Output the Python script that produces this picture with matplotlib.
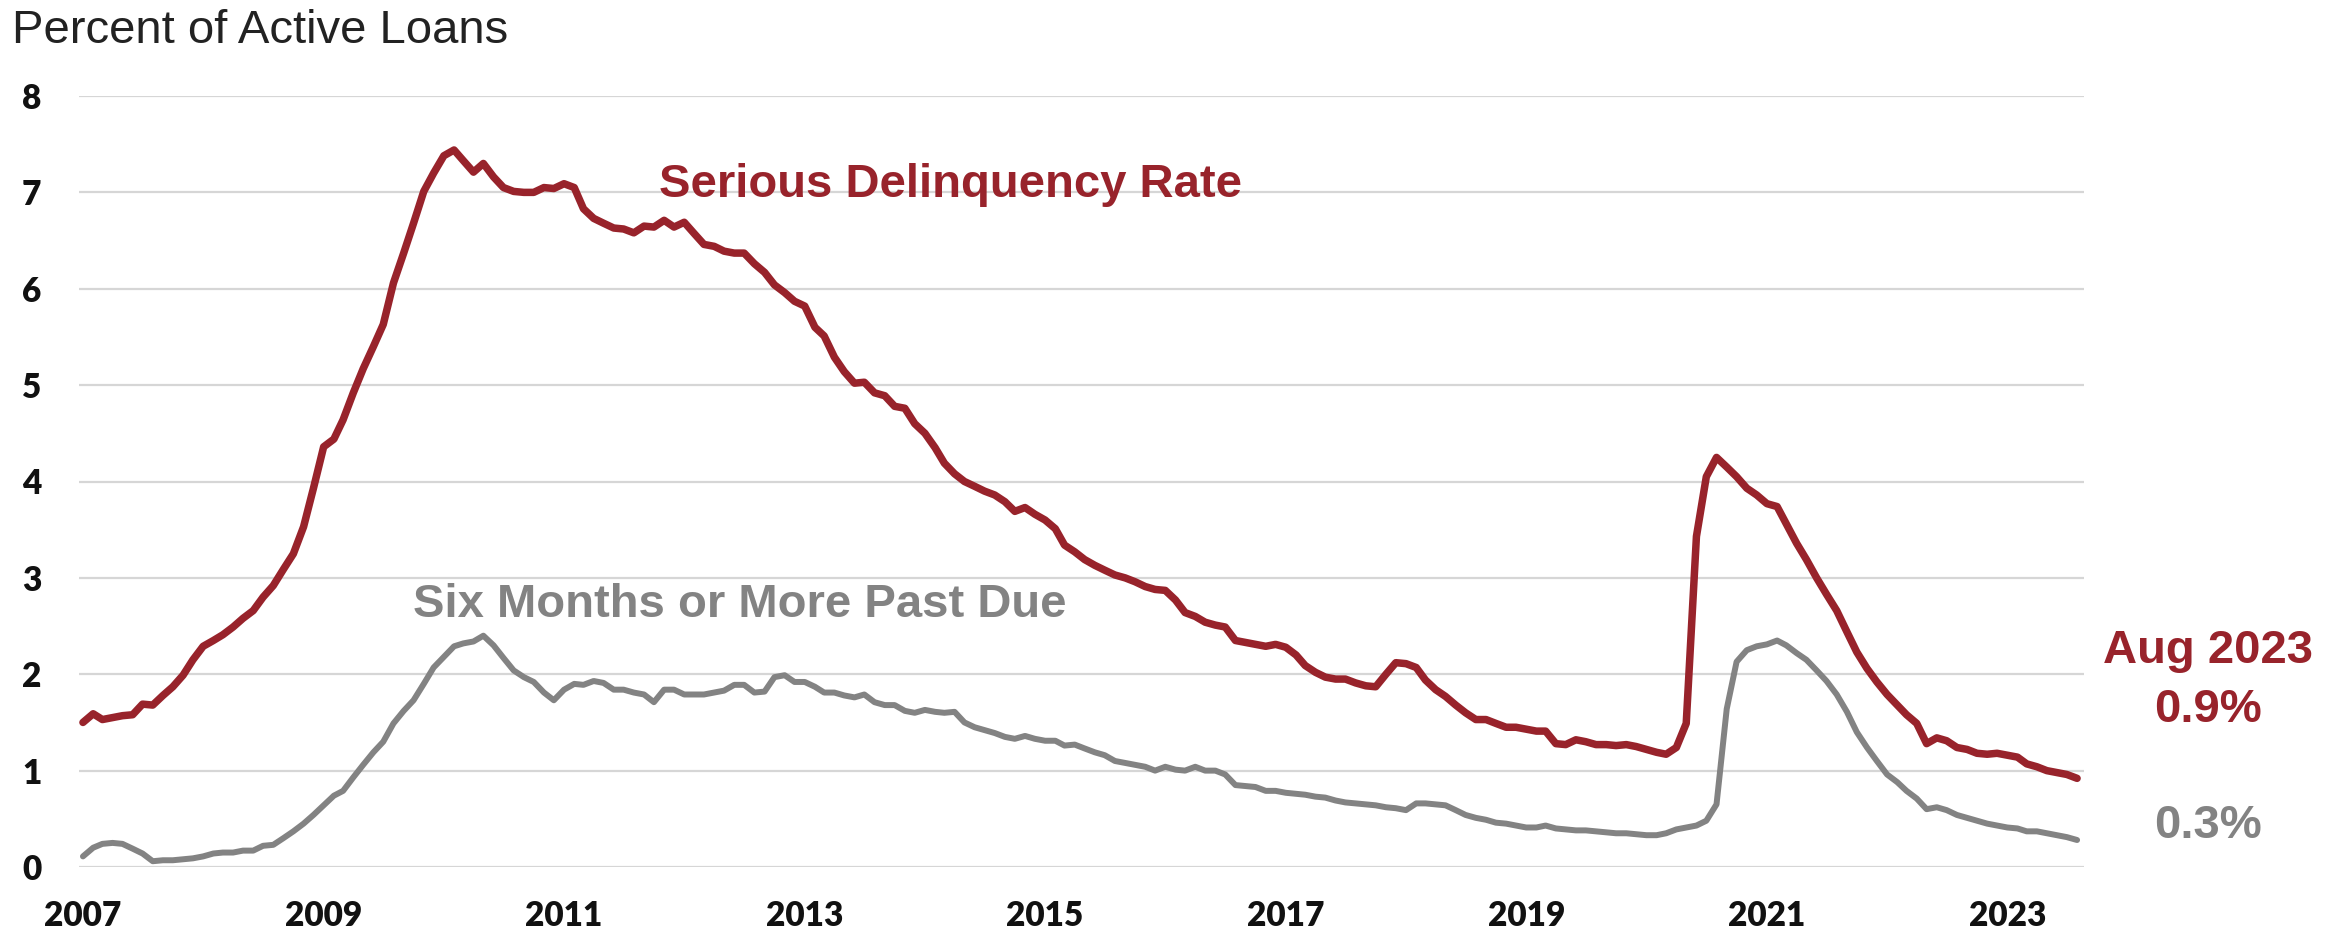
import numpy as np
import pandas as pd
import matplotlib
matplotlib.use("Agg")
import matplotlib.pyplot as plt

# ---------------- data (monthly, Jan 2007 - Aug 2023) ----------------
start_month = "2007-01-01"
end_month = "2023-08-01"

serious_delinquency = [
    1.50, 1.59, 1.53, 1.55, 1.57, 1.58, 1.69, 1.68, 1.78, 1.87, 1.99, 2.15,
    2.29, 2.35, 2.41, 2.49, 2.58, 2.66, 2.80, 2.92, 3.09, 3.25, 3.53, 3.93,
    4.36, 4.44, 4.64, 4.92, 5.17, 5.40, 5.63, 6.06, 6.37, 6.68, 7.01, 7.20,
    7.38, 7.44, 7.33, 7.21, 7.30, 7.16, 7.05, 7.01, 7.00, 7.00, 7.05, 7.04,
    7.09, 7.05, 6.83, 6.73, 6.68, 6.63, 6.62, 6.58, 6.65, 6.64, 6.71, 6.64,
    6.69, 6.57, 6.46, 6.44, 6.39, 6.37, 6.37, 6.26, 6.17, 6.04, 5.96, 5.87,
    5.82, 5.60, 5.51, 5.29, 5.14, 5.02, 5.03, 4.92, 4.89, 4.78, 4.76, 4.60,
    4.50, 4.35, 4.19, 4.08, 4.00, 3.95, 3.90, 3.86, 3.79, 3.69, 3.73, 3.66,
    3.60, 3.51, 3.34, 3.27, 3.19, 3.13, 3.08, 3.03, 3.00, 2.96, 2.91, 2.88,
    2.87, 2.77, 2.64, 2.60, 2.54, 2.51, 2.49, 2.35, 2.33, 2.31, 2.29, 2.31,
    2.28, 2.20, 2.09, 2.02, 1.97, 1.95, 1.95, 1.91, 1.88, 1.87, 2.00, 2.12,
    2.11, 2.07, 1.94, 1.84, 1.77, 1.68, 1.60, 1.53, 1.53, 1.49, 1.45, 1.45,
    1.43, 1.41, 1.41, 1.28, 1.27, 1.32, 1.30, 1.27, 1.27, 1.26, 1.27, 1.25,
    1.22, 1.19, 1.17, 1.24, 1.49, 3.43, 4.05, 4.25, 4.15, 4.05, 3.93, 3.86,
    3.77, 3.74, 3.56, 3.36, 3.19, 3.00, 2.83, 2.66, 2.44, 2.23, 2.06, 1.92,
    1.79, 1.68, 1.58, 1.49, 1.28, 1.34, 1.31, 1.24, 1.22, 1.18, 1.17, 1.18,
    1.16, 1.14, 1.07, 1.04, 1.00, 0.98, 0.96, 0.92,
]

six_months_past_due = [
    0.11, 0.20, 0.24, 0.25, 0.24, 0.19, 0.14, 0.06, 0.07, 0.07, 0.08, 0.09,
    0.11, 0.14, 0.15, 0.15, 0.17, 0.17, 0.22, 0.23, 0.30, 0.37, 0.45, 0.54,
    0.64, 0.74, 0.79, 0.93, 1.06, 1.19, 1.30, 1.49, 1.62, 1.73, 1.90, 2.07,
    2.18, 2.29, 2.32, 2.34, 2.40, 2.30, 2.17, 2.04, 1.97, 1.92, 1.81, 1.73,
    1.84, 1.90, 1.89, 1.93, 1.91, 1.84, 1.84, 1.81, 1.79, 1.71, 1.84, 1.84,
    1.79, 1.79, 1.79, 1.81, 1.83, 1.89, 1.89, 1.81, 1.82, 1.97, 1.99, 1.92,
    1.92, 1.87, 1.81, 1.81, 1.78, 1.76, 1.79, 1.71, 1.68, 1.68, 1.62, 1.60,
    1.63, 1.61, 1.60, 1.61, 1.50, 1.45, 1.42, 1.39, 1.35, 1.33, 1.36, 1.33,
    1.31, 1.31, 1.26, 1.27, 1.23, 1.19, 1.16, 1.10, 1.08, 1.06, 1.04, 1.00,
    1.04, 1.01, 1.00, 1.04, 1.00, 1.00, 0.96, 0.85, 0.84, 0.83, 0.79, 0.79,
    0.77, 0.76, 0.75, 0.73, 0.72, 0.69, 0.67, 0.66, 0.65, 0.64, 0.62, 0.61,
    0.59, 0.66, 0.66, 0.65, 0.64, 0.59, 0.54, 0.51, 0.49, 0.46, 0.45, 0.43,
    0.41, 0.41, 0.43, 0.40, 0.39, 0.38, 0.38, 0.37, 0.36, 0.35, 0.35, 0.34,
    0.33, 0.33, 0.35, 0.39, 0.41, 0.43, 0.48, 0.65, 1.64, 2.13, 2.25, 2.29,
    2.31, 2.35, 2.30, 2.22, 2.15, 2.04, 1.93, 1.79, 1.61, 1.40, 1.24, 1.10,
    0.96, 0.88, 0.79, 0.71, 0.60, 0.62, 0.59, 0.54, 0.51, 0.48, 0.45, 0.43,
    0.41, 0.40, 0.37, 0.37, 0.35, 0.33, 0.31, 0.28,
]

y_ticks = [0, 1, 2, 3, 4, 5, 6, 7, 8]
x_tick_years = [2007, 2009, 2011, 2013, 2015, 2017, 2019, 2021, 2023]

title_text = "Percent of Active Loans"
label_red = "Serious Delinquency Rate"
label_gray = "Six Months or More Past Due"
end_label_date = "Aug 2023"
end_label_red = "0.9%"
end_label_gray = "0.3%"

# ---------------- styling ----------------
RED = "#98232b"
GRAY = "#838383"
GRID = "#d6d6d6"
W, H = 2341, 932

dates = pd.date_range(start_month, end_month, freq="MS")

fig = plt.figure(figsize=(W / 100, H / 100), dpi=100)
fig.patch.set_facecolor("white")

ax_left, ax_right = 79, 2084
ax_top, ax_bottom = 96, 867
ax = fig.add_axes([ax_left / W, 1 - ax_bottom / H,
                   (ax_right - ax_left) / W, (ax_bottom - ax_top) / H])

ax.plot(dates, six_months_past_due, color=GRAY, lw=4.3,
        solid_joinstyle="round", solid_capstyle="round", zorder=3)
ax.plot(dates, serious_delinquency, color=RED, lw=5.4,
        solid_joinstyle="round", solid_capstyle="round", zorder=4)

ax.set_ylim(0, 8)
ax.set_xlim(pd.Timestamp(start_month) - pd.Timedelta(days=12),
            pd.Timestamp(end_month) + pd.Timedelta(days=21))

ax.set_yticks(y_ticks)
ax.set_yticklabels([str(v) for v in y_ticks])
ax.set_xticks([pd.Timestamp(f"{y}-01-01") for y in x_tick_years])
ax.set_xticklabels([str(y) for y in x_tick_years])

ax.grid(axis="y", color=GRID, lw=1.6, zorder=0)
ax.grid(axis="x", visible=False)
for s in ax.spines.values():
    s.set_visible(False)

ax.tick_params(axis="y", length=0, pad=27, labelcolor="#111111")
ax.tick_params(axis="x", length=0, pad=24, labelcolor="#111111")
for lab in ax.get_yticklabels() + ax.get_xticklabels():
    lab.set_fontfamily(["Lato", "DejaVu Sans"])
    lab.set_fontweight("heavy")
    lab.set_fontsize(24)

txt_font = ["Liberation Sans", "DejaVu Sans"]

fig.text(12 / W, 1 - 43 / H, title_text, fontsize=34, color="#222222",
         family=txt_font, ha="left", va="baseline")

fig.text(659 / W, 1 - 197 / H, label_red, fontsize=34, color=RED,
         family=txt_font, weight="bold", ha="left", va="baseline")
fig.text(413 / W, 1 - 617 / H, label_gray, fontsize=34, color=GRAY,
         family=txt_font, weight="bold", ha="left", va="baseline")

fig.text(2208 / W, 1 - 663 / H, end_label_date, fontsize=34, color=RED,
         family=txt_font, weight="bold", ha="center", va="baseline")
fig.text(2208 / W, 1 - 722 / H, end_label_red, fontsize=34, color=RED,
         family=txt_font, weight="bold", ha="center", va="baseline")
fig.text(2208 / W, 1 - 838 / H, end_label_gray, fontsize=34, color=GRAY,
         family=txt_font, weight="bold", ha="center", va="baseline")

fig.savefig("out.png", dpi=100, facecolor="white")
